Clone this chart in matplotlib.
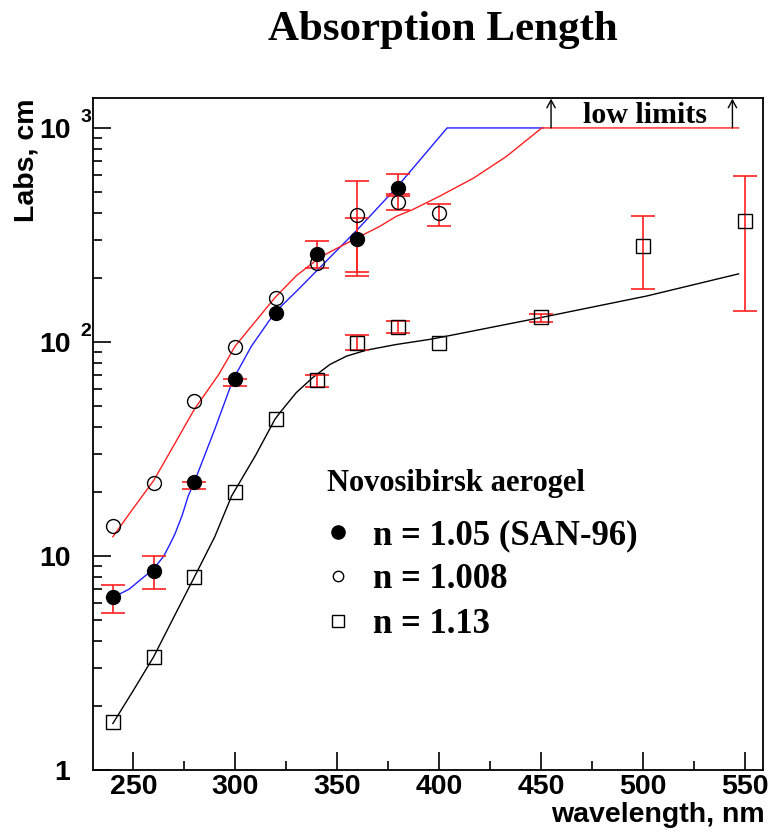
import matplotlib
matplotlib.use('Agg')
import matplotlib.pyplot as plt
from matplotlib.lines import Line2D
import numpy as np

# ---------------- data ----------------
wl_105 = [240, 260, 280, 300, 320, 340, 360, 380]
L_105 = [6.4, 8.5, 22.1, 66.9, 137, 259, 304, 525]
L_105_lo = [5.42, 7.0, 20.5, 62, 137, 222, 204, 480]
L_105_hi = [7.33, 10.0, 22.1, 66.9, 137, 297, 380, 611]

wl_1008 = [240, 260, 280, 300, 320, 340, 360, 380, 400]
L_1008 = [13.8, 21.9, 52.8, 94.3, 160, 235, 393, 452, 402]
L_1008_lo = [13.8, 21.9, 52.8, 94.3, 160, 235, 213, 415, 349]
L_1008_hi = [13.8, 21.9, 52.8, 94.3, 160, 235, 566, 490, 443]

wl_113 = [240, 260, 280, 300, 320, 340, 360, 380, 400, 450, 500, 550]
L_113 = [1.68, 3.38, 7.98, 19.9, 43.5, 66.1, 99.4, 118, 99.4, 131, 282, 368]
L_113_lo = [1.68, 3.38, 7.98, 19.9, 43.5, 61.4, 92, 110, 99.4, 124, 177, 140]
L_113_hi = [1.68, 3.38, 7.98, 19.9, 43.5, 69.8, 108, 125, 99.4, 135, 389, 597]

# fitted curves
fit_105_x = [240, 248, 260, 265, 268, 270.5, 274, 277, 280, 290, 299, 308, 316, 320, 331, 340, 360, 379, 404, 451]
fit_105_y = [6.4, 7.0, 8.7, 10.0, 11.35, 12.7, 15.5, 19.1, 22.2, 39.1, 66.9, 95.6, 123, 139, 176, 215, 335,
             524, 1000, 1000]

fit_1008_x = [240, 250, 260, 270, 280, 292, 300, 310, 319.5, 330, 342, 360, 371, 379, 387, 400, 417, 433,
              450.5, 547]
fit_1008_y = [12.3, 16.7, 22.5, 33.0, 48.5, 70.6, 95.6, 125, 161, 204, 250, 307, 347, 386, 415, 478, 583,
              735, 1000, 1000]

fit_113_x = [240, 250, 260, 270, 280, 290, 298.3, 310, 319.5, 322, 330, 338, 346.5, 354.7, 364.5, 379,
             395.5, 405, 450, 502, 547]
fit_113_y = [1.65, 2.35, 3.38, 5.2, 7.98, 12.3, 19.1, 29.5, 43.5, 46.8, 58, 68.1, 78.5, 85.9, 91.6, 97.3,
             102.8, 107, 130, 164, 208]

limit_arrows_x = [455, 544]
limit_value = 1000

legend_title = "Novosibirsk aerogel"
legend_labels = ["n = 1.05 (SAN-96)", "n = 1.008", "n = 1.13"]
xticks = [250, 300, 350, 400, 450, 500, 550]
yticks = [1, 10, 100, 1000]

# ---------------- figure ----------------
W, H = 770, 832
fig = plt.figure(figsize=(W / 100, H / 100), dpi=100)
L, R, T, B = 92.5, 763, 98, 770
ax = fig.add_axes([L / W, 1 - B / H, (R - L) / W, (B - T) / H])

SERIF = 'Liberation Serif'
SANS = 'Liberation Sans'

ax.set_yscale('log')
ax.set_xlim(230, 559)
ax.set_ylim(1, 1380)

# curves
ax.plot(fit_105_x, fit_105_y, color='#2020ff', lw=1.0, zorder=2)
ax.plot(fit_1008_x, fit_1008_y, color='#ff2020', lw=1.0, zorder=2)
ax.plot(fit_113_x, fit_113_y, color='black', lw=1.0, zorder=2)


def errs(x, y, lo, hi):
    xs, ys, el, eh = [], [], [], []
    for a, b, c, d in zip(x, y, lo, hi):
        if c < b or d > b:
            xs.append(a); ys.append(b); el.append(b - c); eh.append(d - b)
    ax.errorbar(xs, ys, yerr=[el, eh], fmt='none', ecolor='#ff2020',
                elinewidth=1.2, capsize=8.5, capthick=1.2, zorder=3)


errs(wl_105, L_105, L_105_lo, L_105_hi)
errs(wl_1008, L_1008, L_1008_lo, L_1008_hi)
errs(wl_113, L_113, L_113_lo, L_113_hi)

ax.plot(wl_105, L_105, 'o', ms=10, color='black', zorder=4)
ax.plot(wl_1008, L_1008, 'o', ms=10, mfc='none', mec='black', mew=1.0, zorder=4)
ax.plot(wl_113, L_113, 's', ms=9.5, mfc='none', mec='black', mew=1.0, zorder=4)

# low limit arrows
for xa in limit_arrows_x:
    ax.annotate('', xy=(xa, 1370), xytext=(xa, limit_value),
                arrowprops=dict(arrowstyle='->,head_length=0.55,head_width=0.3',
                                color='black', lw=1.0, shrinkA=0, shrinkB=0),
                zorder=5)
ax.text(501, 1055, 'low limits', family=SERIF, weight='bold', fontsize=21.5,
        ha='center', va='baseline')

# axes styling
for s in ax.spines.values():
    s.set_linewidth(1.3)
ax.set_xticks(xticks)
ax.set_xticks([275, 325, 375, 425, 475, 525], minor=True)
ax.set_yticks(yticks)
ax.yaxis.set_minor_locator(matplotlib.ticker.LogLocator(base=10, subs=np.arange(2, 10)))
ax.yaxis.set_minor_formatter(matplotlib.ticker.NullFormatter())
ax.tick_params(which='both', direction='in', top=False, right=False)
ax.tick_params(which='major', length=13, width=1.2)
ax.tick_params(which='minor', length=6.5, width=1.2)
ax.tick_params(axis='x', which='major', pad=3)
ax.tick_params(axis='y', which='major', pad=16)
ax.set_xticklabels([str(v) for v in xticks], family=SANS, weight='bold', fontsize=20.5)
ax.set_yticklabels(['1', '10', '10', '10'], family=SANS, weight='bold', fontsize=20.5)
for v, e in [(100, '2'), (1000, '3')]:
    ax.text(-0.0186, v * 1.115, e, transform=ax.get_yaxis_transform(),
            family=SANS, weight='bold', fontsize=14, ha='left', va='center')

fig.text(765 / W, 1 - 815 / H, 'wavelength, nm', family=SANS, weight='bold',
         fontsize=20.5, ha='right', va='center')
fig.text(27 / W, 1 - 98 / H, 'Labs, cm', family=SANS, weight='bold',
         fontsize=20.5, ha='center', va='top', rotation=90)

fig.text(443 / W, 1 - 40 / H, 'Absorption Length', family=SERIF, weight='bold',
         fontsize=31, ha='center', va='baseline')

# legend
fig.text(327 / W, 1 - 483 / H, legend_title, family=SERIF, weight='bold',
         fontsize=22, ha='left', va='center')
handles = [
    Line2D([], [], ls='none', marker='o', ms=9.5, color='black'),
    Line2D([], [], ls='none', marker='o', ms=7.5, mfc='none', mec='black', mew=1.0),
    Line2D([], [], ls='none', marker='s', ms=8, mfc='none', mec='black', mew=1.0),
]
leg = ax.legend(handles, legend_labels, frameon=False,
                loc='upper left', bbox_to_anchor=(322.5 / W, 1 - 519 / H),
                bbox_transform=fig.transFigure,
                prop=dict(family=SERIF, weight='bold', size=25),
                handlelength=0.9, handletextpad=0.55,
                labelspacing=0.33, borderpad=0.0, borderaxespad=0.0)

fig.savefig('out.png', dpi=100)
